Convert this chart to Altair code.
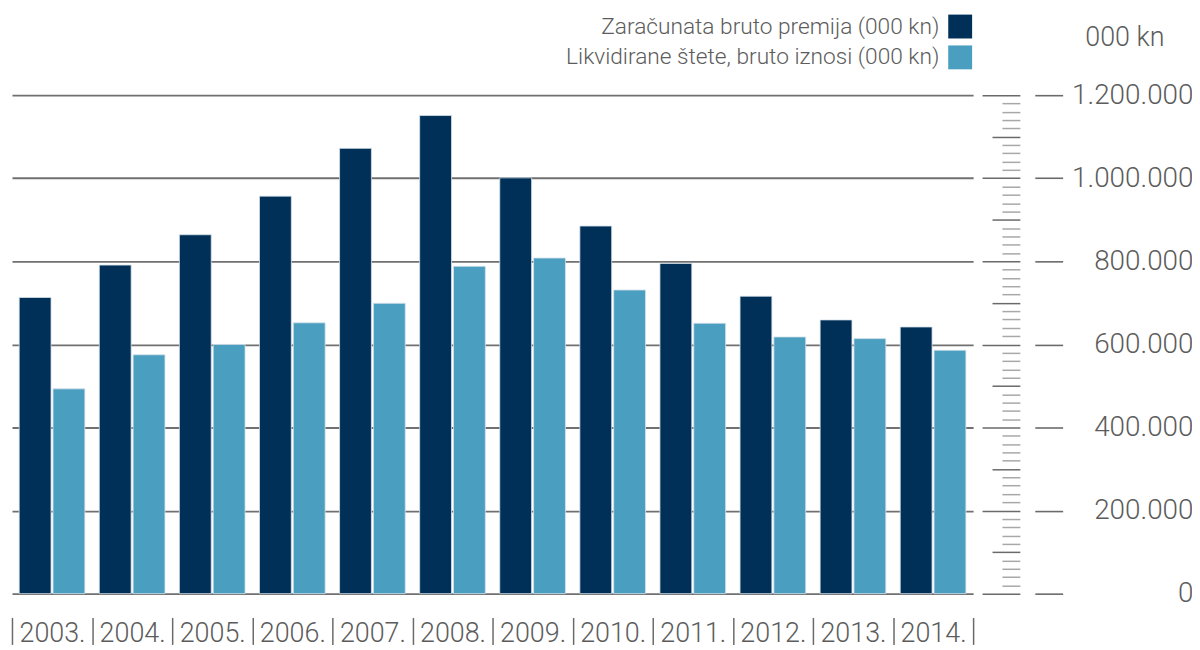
import altair as alt
import pandas as pd

years = ["2003.", "2004.", "2005.", "2006.", "2007.", "2008.",
         "2009.", "2010.", "2011.", "2012.", "2013.", "2014."]
series_names = ["Zaračunata bruto premija (000 kn)",
                "Likvidirane štete, bruto iznosi (000 kn)"]
premija = [713000, 791000, 864000, 957000, 1072000, 1151000,
           1001000, 885000, 795000, 716000, 659000, 642000]
stete = [493000, 575000, 600000, 652000, 699000, 788000,
         808000, 731000, 651000, 618000, 614000, 586000]
colors = ["#003057", "#4a9ebf"]
major_ticks = [0, 200000, 400000, 600000, 800000, 1000000, 1200000]
ruler_ticks = list(range(0, 1200001, 20000))

rows = []
for yr, p, s in zip(years, premija, stete):
    rows.append({"year": yr, "series": series_names[0], "value": p})
    rows.append({"year": yr, "series": series_names[1], "value": s})
df = pd.DataFrame(rows)

FONT = "Roboto"
TXT = "#5c5c5c"

x = alt.X(
    "year:N", sort=years,
    scale=alt.Scale(paddingInner=0, paddingOuter=0),
    axis=alt.Axis(title=None, orient="bottom", domain=False, tickBand="extent",
                  offset=24, tickSize=27, tickColor="#6a6a6a", tickWidth=1.5,
                  labelFont=FONT, labelFontSize=27, labelFontWeight=300,
                  labelColor=TXT, labelBaseline="alphabetic", labelPadding=-3,
                  labelAngle=0),
)
xoff = alt.XOffset("series:N", sort=series_names,
                   scale=alt.Scale(paddingInner=0.0588, paddingOuter=0.2132))
color = alt.Color(
    "series:N", sort=series_names,
    scale=alt.Scale(domain=series_names, range=colors),
    legend=alt.Legend(title=None, orient="none", legendX=941, legendY=-81,
                      direction="vertical", symbolType="square", symbolSize=576,
                      symbolStrokeWidth=0, symbolOpacity=1, labelFont=FONT,
                      labelFontSize=22.8, labelFontWeight=300, labelColor=TXT,
                      labelAlign="right", labelOffset={"expr": "-33"},
                      rowPadding=7, padding=0, labelLimit=0),
)

yscale = alt.Scale(domain=[0, 1200000], nice=False, zero=True)

bars = alt.Chart(df).mark_bar(stroke="#d6e2ea", strokeWidth=0.8).encode(
    x=x, xOffset=xoff, color=color,
    y=alt.Y("value:Q", scale=yscale, axis=alt.Axis(
        orient="right", offset=62, values=major_ticks, grid=True,
        gridColor="#707070", gridWidth=1.8, domain=False, tickSize=28,
        tickColor="#6a6a6a", tickWidth=1.6,
        labelExpr="replace(format(datum.value, ','), regexp(',', 'g'), '.')",
        labelAlign="right", labelPadding=131, labelBaseline="middle",
        labelFont=FONT, labelFontSize=28, labelFontWeight=300, labelColor=TXT,
        title="000 kn", titleAngle=0, titleX=90, titleY=-50, titleAlign="center",
        titleBaseline="alphabetic", titleFont=FONT, titleFontSize=27,
        titleFontWeight=300, titleColor=TXT)),
)

ruler = alt.Chart(df).mark_tick(opacity=0).encode(
    y=alt.Y("value:Q", scale=yscale, axis=alt.Axis(
        orient="left", offset=-1013, values=ruler_ticks, grid=False,
        domain=False, labels=False, title=None, tickWidth=1.5,
        tickSize={"condition": [{"test": "datum.value % 200000 === 0", "value": 38},
                                {"test": "datum.value % 100000 === 0", "value": 28}],
                  "value": 18},
        tickColor={"condition": {"test": "datum.value % 100000 === 0", "value": "#6a6a6a"},
                   "value": "#a8a8a8"})),
)

chart = alt.layer(bars, ruler).resolve_scale(y="shared").resolve_axis(
    y="independent"
).properties(
    width=966, height=501,
    padding={"left": 4, "top": 86, "right": 220, "bottom": 57},
    autosize=alt.AutoSizeParams(type="none"),
).configure_view(stroke=None)

chart.save("out.html", embed_options={"renderer": "svg", "actions": False})
